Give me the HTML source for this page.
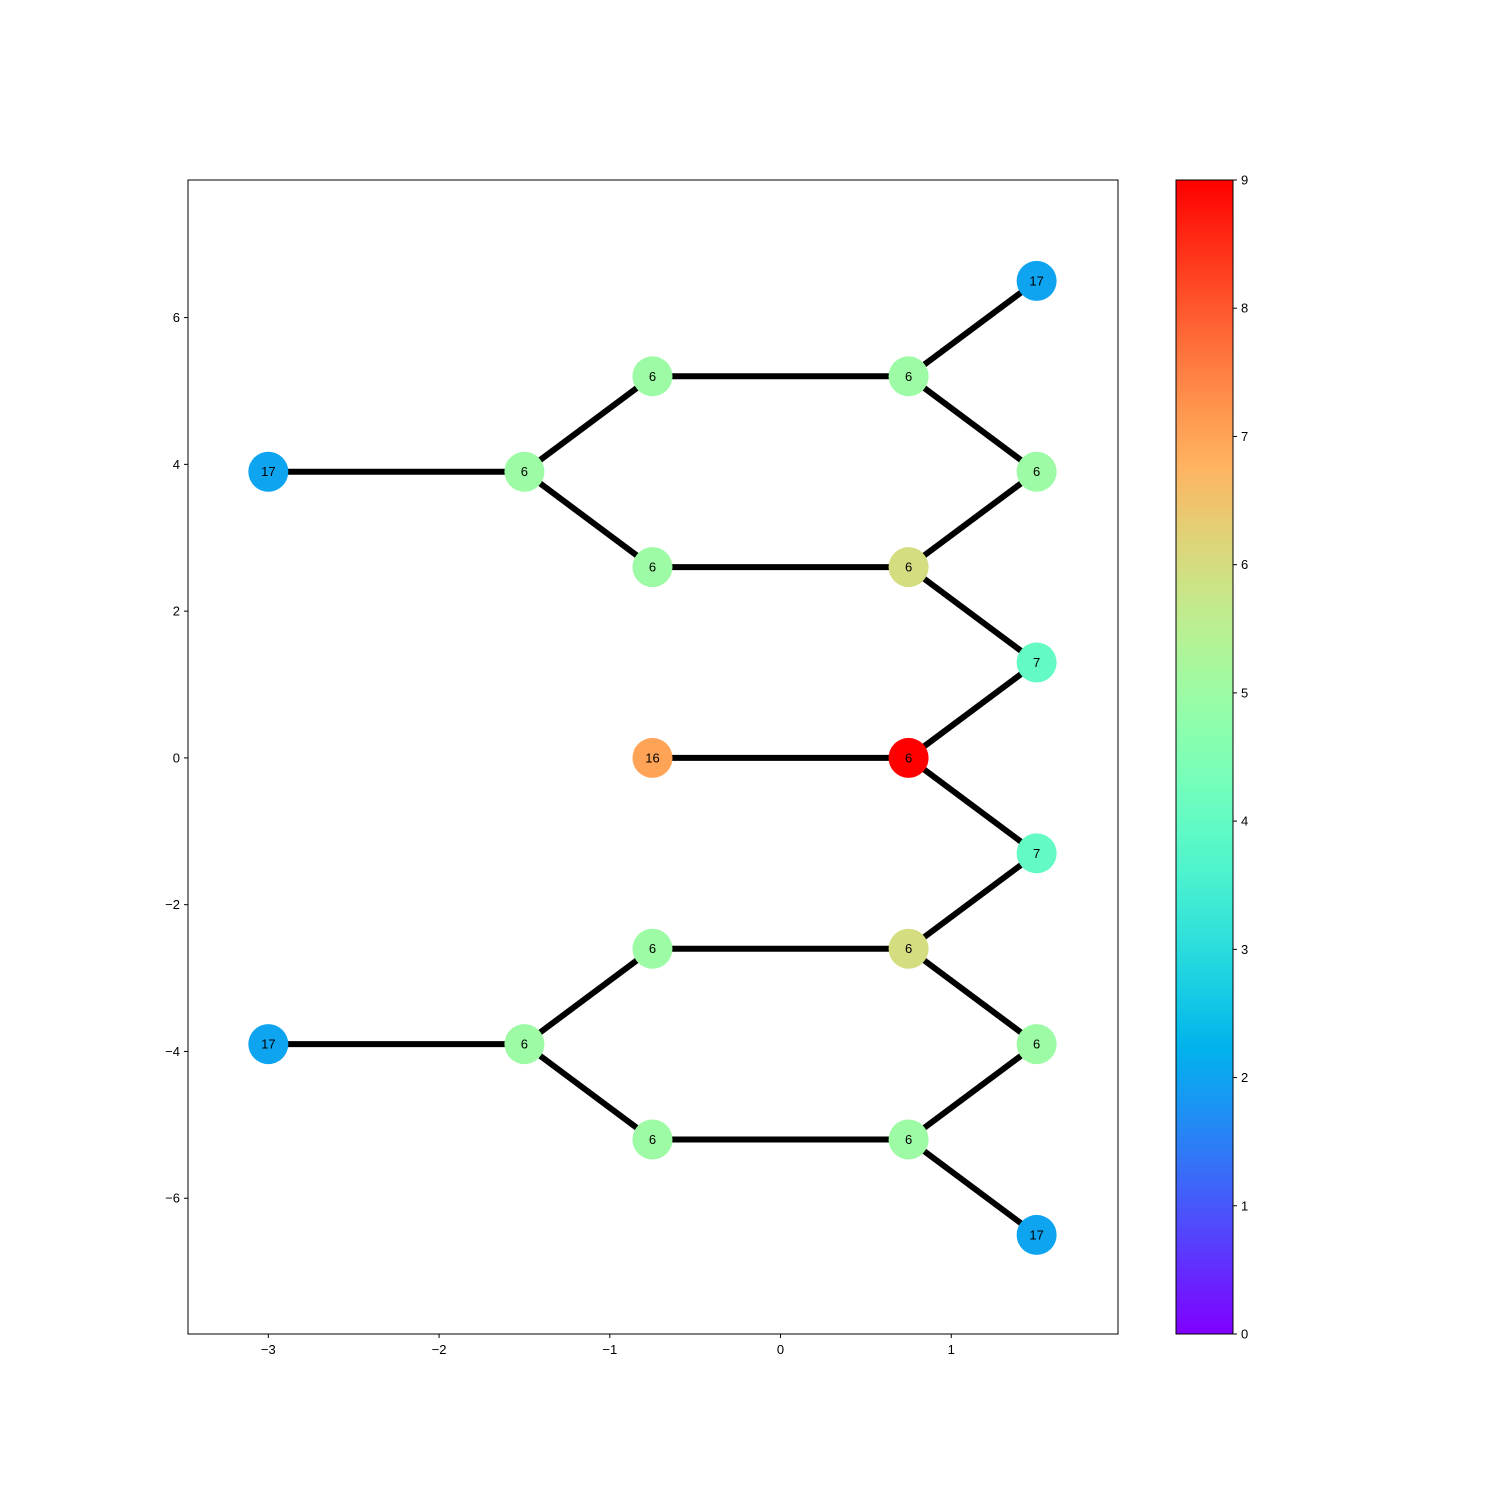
<!DOCTYPE html>
<html><head><meta charset="utf-8"><style>
body{margin:0;background:#fff;}
svg text{font-family:"Liberation Sans",DejaVu Sans,sans-serif;}
</style></head><body>
<svg id="chart" width="1500" height="1500" xmlns="http://www.w3.org/2000/svg">
<defs><linearGradient id="cbgrad" x1="0" y1="1" x2="0" y2="0"></linearGradient></defs>
<rect x="0" y="0" width="1500" height="1500" fill="#fff"/>
<g id="edges"></g>
<g id="nodes"></g>
<rect x="188" y="180" width="930" height="1154" fill="none" stroke="#000" stroke-width="1"/>
<g id="xticks"></g>
<g id="yticks"></g>
<rect x="1176" y="180" width="57" height="1154" fill="url(#cbgrad)" stroke="#000" stroke-width="1"/>
<g id="cbticks"></g>
</svg>
<script>
const nodeX = [-3,-1.5,-0.75,-0.75,0.75,0.75,1.5,1.5,1.5,0.75,-0.75,1.5,0.75,-0.75,1.5,-1.5,-3,-0.75,0.75,1.5];
const nodeY = [3.9,3.9,5.2,2.6,5.2,2.6,6.5,3.9,1.3,0,0,-1.3,-2.6,-2.6,-3.9,-3.9,-3.9,-5.2,-5.2,-6.5];
const nodeLabels = ["17","6","6","6","6","6","17","6","7","6","16","7","6","6","6","6","17","6","6","17"];
const nodeValues = [2,5,5,5,5,6,2,5,4,9,7,4,6,5,5,5,2,5,5,2];
const edgeFrom = [0,1,1,2,3,4,4,5,5,8,10,9,11,12,12,13,15,15,17,18,18];
const edgeTo   = [1,2,3,4,5,6,7,7,8,9,9,11,12,13,14,15,16,17,18,14,19];
const xTicks = [-3,-2,-1,0,1];
const yTicks = [-6,-4,-2,0,2,4,6];
const cbTicks = [0,1,2,3,4,5,6,7,8,9];
const vmin = 0, vmax = 9;

const NS = "http://www.w3.org/2000/svg";
const X0=188,X1=1118,Y0=180,Y1=1334;
const xmin=-3.4705,xmax=1.9766,ymin=-7.85,ymax=7.875;
function sx(v){return X0+(v-xmin)/(xmax-xmin)*(X1-X0);}
function sy(v){return Y1-(v-ymin)/(ymax-ymin)*(Y1-Y0);}
function cy(v){return Y1-(v-vmin)/(vmax-vmin)*(Y1-Y0);}
function rainbow(t){
  const c=x=>Math.max(0,Math.min(1,x));
  const r=c(Math.abs(2*t-0.5)),g=c(Math.sin(Math.PI*t)),b=c(Math.cos(Math.PI*t/2));
  return "rgb("+Math.round(r*255)+","+Math.round(g*255)+","+Math.round(b*255)+")";
}
function mk(tag,attrs,parent){const e=document.createElementNS(NS,tag);for(const k in attrs)e.setAttribute(k,attrs[k]);parent.appendChild(e);return e;}

const eg=document.getElementById("edges");
for(let i=0;i<edgeFrom.length;i++){
  const a=edgeFrom[i],b=edgeTo[i];
  const l=mk("line",{x1:sx(nodeX[a]),y1:sy(nodeY[a]),x2:sx(nodeX[b]),y2:sy(nodeY[b]),stroke:"#000","stroke-width":6},eg);
  
  
}
const ng=document.getElementById("nodes");
for(let i=0;i<nodeX.length;i++){
  const c=mk("circle",{cx:sx(nodeX[i]),cy:sy(nodeY[i]),r:20,fill:rainbow((nodeValues[i]-vmin)/(vmax-vmin))},ng);
  
  
  const t=mk("text",{x:sx(nodeX[i]),y:sy(nodeY[i])+4.5,"text-anchor":"middle","font-size":13,fill:"#000"},ng);
  t.textContent=nodeLabels[i];
  
  
}
const xg=document.getElementById("xticks");
xTicks.forEach(v=>{
  const x=sx(v);
  const l=mk("line",{x1:x,y1:Y1,x2:x,y2:Y1+4,stroke:"#000"},xg);
  
  
  const t=mk("text",{x:x,y:Y1+20,"text-anchor":"middle","font-size":13},xg);
  t.textContent=(v<0?"\u2212":"")+Math.abs(v);
  
  
});
const yg=document.getElementById("yticks");
yTicks.forEach(v=>{
  const y=sy(v);
  const l=mk("line",{x1:X0-4,y1:y,x2:X0,y2:y,stroke:"#000"},yg);
  
  
  const t=mk("text",{x:X0-8,y:y+4.5,"text-anchor":"end","font-size":13},yg);
  t.textContent=(v<0?"\u2212":"")+Math.abs(v);
  
  
});
const grad=document.getElementById("cbgrad");
for(let i=0;i<=20;i++){mk("stop",{offset:(i/20),"stop-color":rainbow(i/20)},grad);}
const cg=document.getElementById("cbticks");
cbTicks.forEach(v=>{
  const y=cy(v);
  const l=mk("line",{x1:1233,y1:y,x2:1237,y2:y,stroke:"#000"},cg);
  
  
  const t=mk("text",{x:1241,y:y+4.5,"font-size":13},cg);
  t.textContent=String(v);
  
  
});
</script>
</body></html>
